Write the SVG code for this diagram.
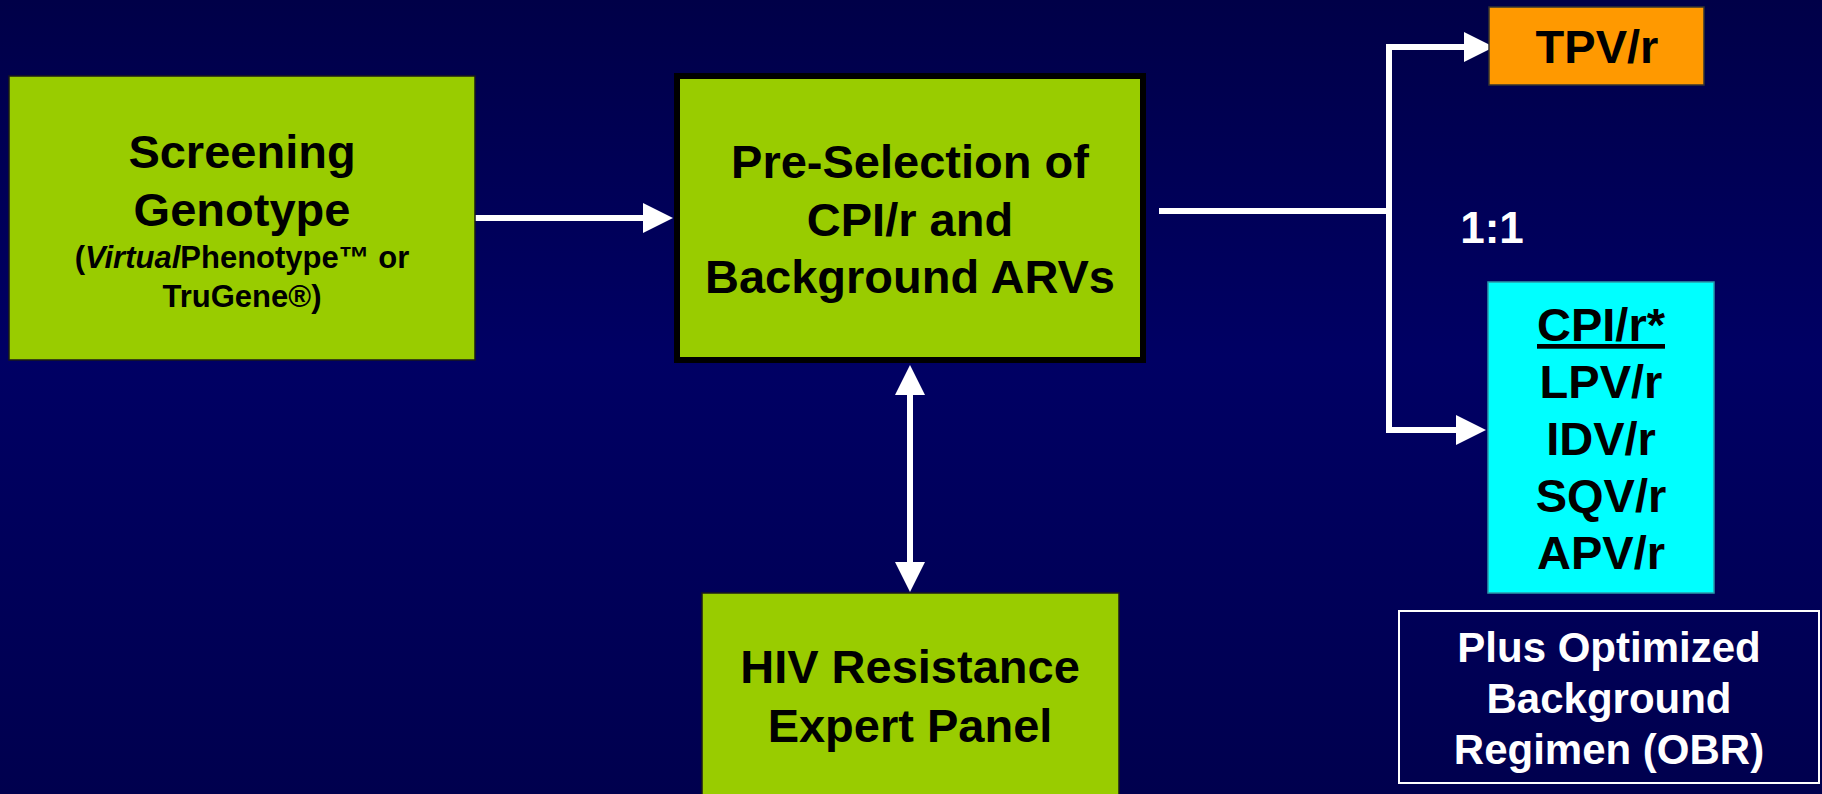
<svg xmlns="http://www.w3.org/2000/svg" width="1822" height="794" viewBox="0 0 1822 794">
  <defs>
    <linearGradient id="bg" x1="0" y1="0" x2="0" y2="1">
      <stop offset="0" stop-color="#000048"/>
      <stop offset="0.45" stop-color="#000064"/>
      <stop offset="1" stop-color="#00004e"/>
    </linearGradient>
    <marker id="ah" viewBox="0 0 30 30" refX="1" refY="15" markerWidth="30" markerHeight="30" markerUnits="userSpaceOnUse" orient="auto-start-reverse">
      <path d="M0,0 L30,15 L0,30 z" fill="#ffffff"/>
    </marker>
    <style>
      .t { font-family: "Liberation Sans", Arial, sans-serif; font-weight: bold; text-anchor: middle; fill: #000000; }
      .big { font-size: 47px; }
      .sub { font-size: 31px; }
      .w { fill: #ffffff; }
      .green { fill: #99cc00; stroke: #1a1a1a; stroke-width: 1.5; }
      .conn { fill: none; stroke: #ffffff; stroke-width: 6; stroke-linejoin: miter; }
    </style>
  </defs>
  <rect x="0" y="0" width="1822" height="794" fill="url(#bg)"/>

  <g id="connectors">
    <path class="conn" d="M475,218 H644" marker-end="url(#ah)"/>
    <path class="conn" d="M1159,211 H1389"/>
    <path class="conn" d="M1389,211 V47 H1465" marker-end="url(#ah)"/>
    <path class="conn" d="M1389,211 V430 H1457" marker-end="url(#ah)"/>
    <path class="conn" d="M910,394 V563" marker-start="url(#ah)" marker-end="url(#ah)"/>
  </g>

  <g id="screening">
    <rect class="green" x="9" y="76" width="466" height="284"/>
    <text class="t big" x="242" y="168">Screening</text>
    <text class="t big" x="242" y="226">Genotype</text>
    <text class="t sub" x="242" y="268">(<tspan font-style="italic">Virtual</tspan>Phenotype™ or</text>
    <text class="t sub" x="242" y="307">TruGene®)</text>
  </g>

  <g id="preselection">
    <rect x="677" y="76" width="466" height="284" fill="#99cc00" stroke="#000000" stroke-width="6"/>
    <text class="t big" x="910" y="178">Pre-Selection of</text>
    <text class="t big" x="910" y="236">CPI/r and</text>
    <text class="t big" x="910" y="293">Background ARVs</text>
  </g>

  <g id="panel">
    <rect class="green" x="702" y="593" width="417" height="210"/>
    <text class="t big" x="910" y="683">HIV Resistance</text>
    <text class="t big" x="910" y="742">Expert Panel</text>
  </g>

  <g id="tpv">
    <rect x="1489" y="7" width="215" height="78" fill="#ff9900" stroke="#333333" stroke-width="1.5"/>
    <text class="t big" x="1597" y="63">TPV/r</text>
  </g>

  <g id="ratio">
    <text class="t w" x="1492" y="243" font-size="44">1:1</text>
  </g>

  <g id="cpi">
    <rect x="1488" y="282" width="226" height="311" fill="#00ffff" stroke="#2a9aaa" stroke-width="1.5"/>
    <text class="t big" x="1601" y="341" text-decoration="underline">CPI/r*</text>
    <text class="t big" x="1601" y="398">LPV/r</text>
    <text class="t big" x="1601" y="455">IDV/r</text>
    <text class="t big" x="1601" y="512">SQV/r</text>
    <text class="t big" x="1601" y="569">APV/r</text>
  </g>

  <g id="obr">
    <rect x="1399" y="611" width="420" height="172" fill="none" stroke="#ffffff" stroke-width="2"/>
    <text class="t w" x="1609" y="662" font-size="42">Plus Optimized</text>
    <text class="t w" x="1609" y="713" font-size="42">Background</text>
    <text class="t w" x="1609" y="764" font-size="42">Regimen (OBR)</text>
  </g>
</svg>
